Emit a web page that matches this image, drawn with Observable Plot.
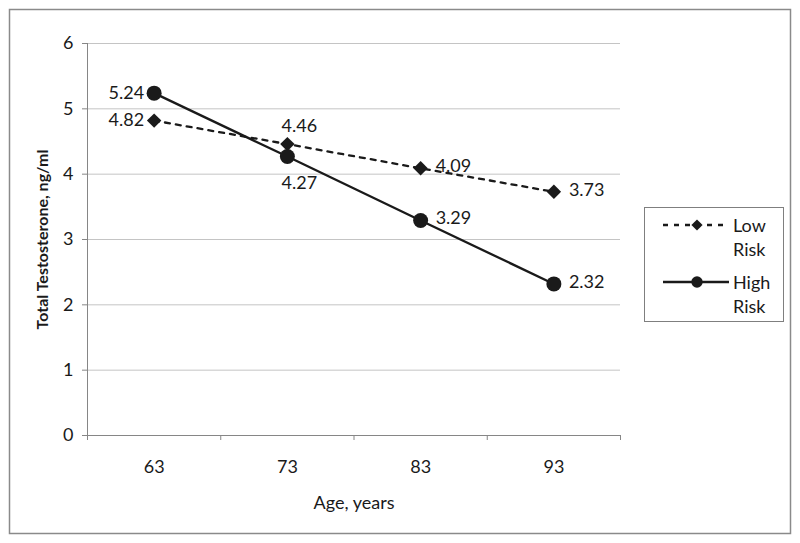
<!DOCTYPE html>
<html><head><meta charset="utf-8">
<script src="https://cdn.jsdelivr.net/npm/d3@7"></script>
<script src="https://cdn.jsdelivr.net/npm/@observablehq/plot@0.6"></script>
<style>
body{margin:0;background:#fff;}
#chart{position:relative;width:800px;height:543px;}
</style></head><body><div id="chart"></div>
<script>
const ages = [63, 73, 83, 93];
const lowRisk = [4.82, 4.46, 4.09, 3.73];
const highRisk = [5.24, 4.27, 3.29, 2.32];
const yTicks = [0, 1, 2, 3, 4, 5, 6];
const xBounds = [58, 68, 78, 88, 98];
const seriesNames = ["Low Risk", "High Risk"];
const yLabel = "Total Testosterone, ng/ml";
const xLabel = "Age, years";

const rows = ages.map((a, i) => ({age: a, low: lowRisk[i], high: highRisk[i]}));
const ink = "#1a1a1a";
const axisGray = "#868686";

const lowPos = ["left", "top", "right", "right"];
const highPos = ["left", "bottom", "right", "right"];

function labelMarks(key, pos) {
  const base = {x: "age", y: key, text: d => d[key].toFixed(2), fill: ink};
  return [
    Plot.text(rows, {...base, filter: (d, i) => pos[i] === "left", textAnchor: "end", dx: -10}),
    Plot.text(rows, {...base, filter: (d, i) => pos[i] === "right", textAnchor: "start", dx: 15, dy: -2}),
    Plot.text(rows, {...base, filter: (d, i) => pos[i] === "top", textAnchor: "middle", dx: 12, dy: -18}),
    Plot.text(rows, {...base, filter: (d, i) => pos[i] === "bottom", textAnchor: "middle", dx: 12, dy: 27})
  ];
}

const chart = Plot.plot({
  width: 800, height: 543,
  marginLeft: 87, marginRight: 180, marginTop: 43, marginBottom: 108,
  style: {fontFamily: "Lato", fontSize: "18px", color: ink, background: "white"},
  x: {type: "linear", domain: [58, 98]},
  y: {domain: [0, 6]},
  marks: [
    Plot.gridY(yTicks, {stroke: "#c4c4c4", strokeOpacity: 1}),
    Plot.ruleX([58], {stroke: axisGray}),
    Plot.ruleY([0], {stroke: axisGray}),
    Plot.ruleX(xBounds, {y1: 0, y2: 0, insetBottom: -5, stroke: axisGray}),
    Plot.axisY(yTicks, {tickSize: 5, tickPadding: 9, stroke: axisGray, tickFormat: d => String(d), label: null}),
    Plot.axisX(ages, {tickSize: 0, tickPadding: 25, tickFormat: d => String(d), label: null}),
    Plot.line(rows, {x: "age", y: "low", stroke: ink, strokeWidth: 2.3, strokeDasharray: "5,6"}),
    Plot.line(rows, {x: "age", y: "high", stroke: ink, strokeWidth: 2.3}),
    Plot.dot(rows, {x: "age", y: "low", symbol: "diamond2", r: 6.5, fill: ink}),
    Plot.dot(rows, {x: "age", y: "high", r: 7.5, fill: ink}),
    ...labelMarks("low", lowPos),
    ...labelMarks("high", highPos),
    Plot.text([yLabel], {text: d => d, frameAnchor: "left", textAnchor: "middle", lineAnchor: "middle", rotate: -90, dx: -45, fontWeight: "bold", fontSize: 16, fill: ink}),
    Plot.text([xLabel], {text: d => d, frameAnchor: "bottom", textAnchor: "middle", lineAnchor: "middle", dy: 68, fill: ink})
  ]
});
document.getElementById("chart").appendChild(chart);

const svg = d3.select(chart);
svg.append("rect").attr("x", 9.5).attr("y", 9.5).attr("width", 781).attr("height", 524)
  .attr("fill", "none").attr("stroke", "#8a8a8a").attr("stroke-width", 1.5);

// legend
const lg = svg.append("g").attr("font-family", "Lato").attr("font-size", 18).attr("fill", ink).attr("text-anchor", "start");
lg.append("rect").attr("x", 644.5).attr("y", 207.5).attr("width", 139).attr("height", 114)
  .attr("fill", "white").attr("stroke", "#7f7f7f");
const entries = [
  {name: seriesNames[0], y: 225, dash: "5,6", sym: "diamond"},
  {name: seriesNames[1], y: 282, dash: null, sym: "circle"}
];
entries.forEach(e => {
  const l = lg.append("line").attr("x1", 663).attr("x2", 729).attr("y1", e.y).attr("y2", e.y)
    .attr("stroke", ink).attr("stroke-width", 2.3);
  if (e.dash) l.attr("stroke-dasharray", e.dash);
  if (e.sym === "diamond") {
    lg.append("path").attr("d", d3.symbol(d3.symbolDiamond2, 80)()).attr("transform", `translate(697,${e.y})`).attr("fill", ink);
  } else {
    lg.append("circle").attr("cx", 697).attr("cy", e.y).attr("r", 5.7).attr("fill", ink);
  }
  e.name.split(" ").forEach((w, k) => {
    lg.append("text").attr("x", 733).attr("y", e.y + 1 + k * 24).attr("dy", "0.35em").attr("text-anchor", "start").text(w);
  });
});
</script></body></html>
